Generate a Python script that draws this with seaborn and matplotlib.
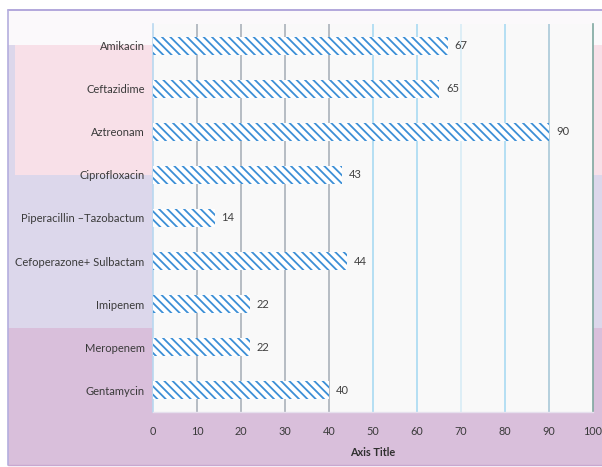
import matplotlib
matplotlib.use("Agg")
import matplotlib.pyplot as plt
from matplotlib.patches import Rectangle
from matplotlib.lines import Line2D
import seaborn as sns
import pandas as pd

# Antibiotic resistance values
drugs = ["Amikacin", "Ceftazidime", "Aztreonam", "Ciprofloxacin",
         "Piperacillin \u2013Tazobactum", "Cefoperazone+ Sulbactam",
         "Imipenem", "Meropenem", "Gentamycin"]
values = [67, 65, 90, 43, 14, 44, 22, 22, 40]
x_ticks = [0, 10, 20, 30, 40, 50, 60, 70, 80, 90, 100]

sns.set_theme(style="white")
plt.rcParams["font.family"] = ["Lato", "DejaVu Sans"]
plt.rcParams["hatch.linewidth"] = 1.3

W, H = 602, 467
fig = plt.figure(figsize=(W / 100, H / 100), dpi=100, facecolor="white")

def band(x0, y0, x1, y1, color):
    """Background rectangle in pixel coordinates (origin top-left)."""
    fig.patches.append(Rectangle((x0 / W, 1 - y1 / H), (x1 - x0) / W, (y1 - y0) / H,
                                 transform=fig.transFigure, facecolor=color,
                                 edgecolor="none", zorder=-2))

# Chart-area background bands
band(8, 10, W, 45, "#fbf9fb")
band(15, 45, W, 175, "#f8e0e8")
band(8, 175, W, 328, "#dcd7eb")
band(8, 328, W, 465, "#d9bfdb")
band(8, 45, 15, 175, "#dcd7eb")
# Frame lines
for xs, ys, c, lw in [([8, W], [10, 10], "#a69ad6", 1.2),
                      ([8, 8], [10, 465], "#b4aede", 1.2),
                      ([8, W], [465, 465], "#c8a8d0", 1.0)]:
    fig.lines.append(Line2D([x / W for x in xs], [1 - y / H for y in ys],
                            transform=fig.transFigure, color=c, lw=lw, zorder=-1))

ax = fig.add_axes([153 / W, 1 - 412 / H, 440 / W, 388 / H])
ax.set_zorder(1)
ax.set_facecolor("#f9f9f9")

df = pd.DataFrame({"drug": drugs, "value": values})
sns.barplot(data=df, x="value", y="drug", orient="h", color="white",
            width=0.42, ax=ax, zorder=3)
for p in ax.patches:
    p.set_hatch("\\\\\\\\")
    p.set_edgecolor("#3c8fd6")
    p.set_linewidth(0)
    p.set_facecolor("white")

ax.bar_label(ax.containers[0], labels=[str(v) for v in values], padding=5,
             fontsize=8, color="#404040")

# Vertical gridlines
grid_colors = {10: "#aab2ba", 20: "#aab2ba", 30: "#aab2ba", 40: "#aab2ba",
               50: "#a9daf2", 60: "#a9daf2", 70: "#d8ecf6", 80: "#a9daf2", 90: "#a9c8d8"}
for xv, c in grid_colors.items():
    ax.axvline(xv, color=c, lw=1.2, zorder=1)

ax.set_xlim(0, 100)
ax.set_xticks(x_ticks)
ax.tick_params(axis="x", length=0, pad=10, labelsize=7.8, labelcolor="#3a3a3a")
ax.tick_params(axis="y", length=0, pad=6, labelsize=8, labelcolor="#3a3a3a")
ax.set_ylabel("")
ax.set_xlabel("Axis Title", fontsize=7.8, fontweight="bold", color="#303030", labelpad=7)

ax.spines["top"].set_visible(False)
ax.spines["left"].set_color("#b8d8f0")
ax.spines["left"].set_linewidth(1.2)
ax.spines["right"].set_color("#7fa8a0")
ax.spines["right"].set_linewidth(1.2)
ax.spines["bottom"].set_color("#e6e0ee")
ax.spines["bottom"].set_linewidth(1.0)

fig.savefig("out.png", dpi=100, facecolor=fig.get_facecolor())
